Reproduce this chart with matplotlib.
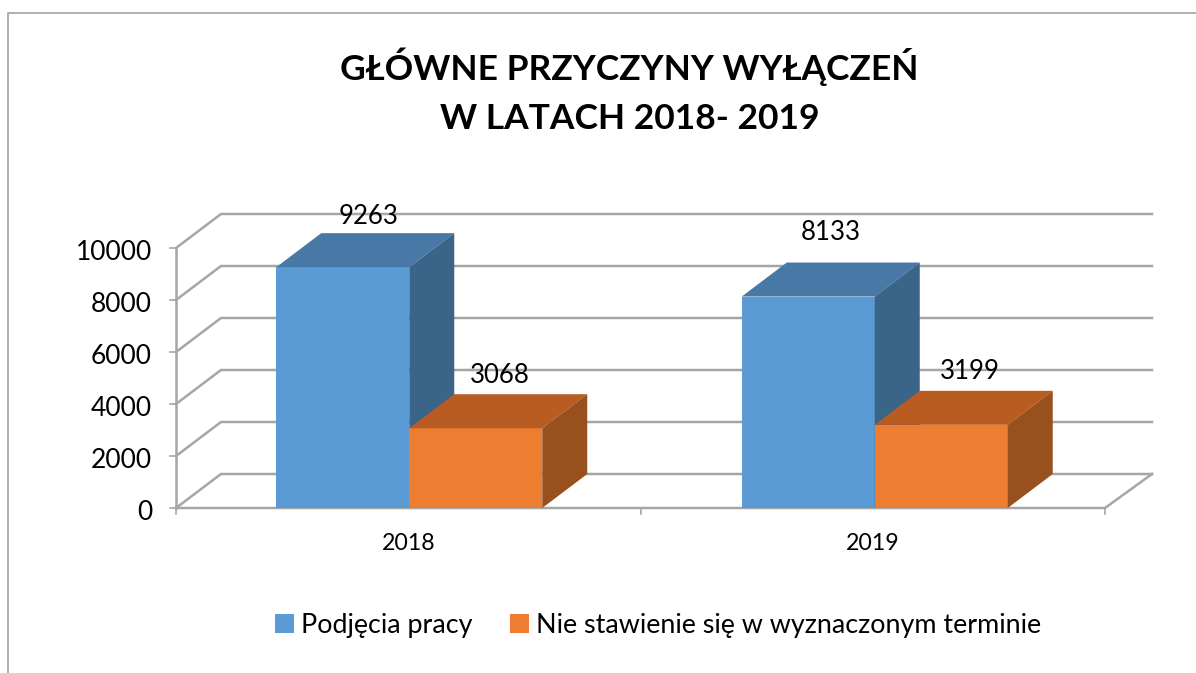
import matplotlib
matplotlib.use("Agg")
import matplotlib.pyplot as plt
from matplotlib.patches import Polygon, Rectangle
from matplotlib.lines import Line2D

plt.rcParams['font.family'] = ['Lato', 'DejaVu Sans']

title = "GŁÓWNE PRZYCZYNY WYŁĄCZEŃ\nW LATACH 2018- 2019"
categories = ["2018", "2019"]
series_names = ["Podjęcia pracy", "Nie stawienie się w wyznaczonym terminie"]
work_values = [9263, 8133]
absence_values = [3068, 3199]
y_ticks = [0, 2000, 4000, 6000, 8000, 10000]
# label offsets from the centre of each bar top's back edge, in pixels
work_label_lift = [17, 30]
absence_label_lift = [19, 19]
work_label_shift = [3, 0]
absence_label_shift = [2, 6]

W, H = 1196, 673
fig = plt.figure(figsize=(W / 100, H / 100), dpi=100, facecolor="white")
L, R, B, T = 176, 1105, 508, 248
ax = fig.add_axes([L / W, 1 - B / H, (R - L) / W, (B - T) / H])
ax.set_xlim(-0.5, 1.5)
ax.set_ylim(0, 10000)
ax.axis("off")

px_x = 2 / (R - L)
px_y = 10000 / (B - T)
dx = 45 * px_x
dy = 34 * px_y
bw = 133 * px_x
grid = "#a6a6a6"

# chart frame
fig.add_artist(Line2D([8 / W, 8 / W, 1], [0, 1 - 13 / H, 1 - 13 / H], color="#a9a9a9", lw=1.3))

# walls / grid
gx = dx + 2 * px_x
for v in y_ticks:
    ax.plot([-0.5, -0.5 + dx, 1.5 + gx], [v, v + dy, v + dy], color=grid, lw=1.8, clip_on=False, zorder=1)
    ax.plot([-0.5 - 6 * px_x, -0.5], [v, v], color=grid, lw=1.2, clip_on=False, zorder=1)
    ax.text(-0.5 - 24 * px_x, v - 4 * px_y, str(v), ha="right", va="center", fontsize=19, color="black", clip_on=False)
ax.plot([-0.5, 1.5, 1.5 + gx], [0, 0, dy], color=grid, lw=1.8, clip_on=False, zorder=1)
ax.plot([-0.5, -0.5], [0, 10000], color=grid, lw=1.8, clip_on=False, zorder=1)
for xt in [-0.5, 0.5, 1.5]:
    ax.plot([xt, xt], [0, -6 * px_y], color=grid, lw=1.2, clip_on=False, zorder=1)


def bar3d(x0, v, front, top, side, z):
    x1 = x0 + bw
    ax.add_patch(Rectangle((x0, 0), bw, v, facecolor=front, edgecolor="none", zorder=z, clip_on=False))
    ax.add_patch(Polygon([(x0, v), (x1, v), (x1 + dx, v + dy), (x0 + dx, v + dy)],
                         facecolor=top, edgecolor="none", zorder=z, clip_on=False))
    ax.add_patch(Polygon([(x1, 0), (x1, v), (x1 + dx, v + dy), (x1 + dx, dy)],
                         facecolor=side, edgecolor="none", zorder=z, clip_on=False))


for i in range(len(categories)):
    c = i + (1 + i) * px_x
    bar3d(c - bw, work_values[i], "#5b9bd5", "#4878a6", "#3b6489", 2)
    bar3d(c, absence_values[i], "#ed7d31", "#b85c22", "#98501c", 3)
    ax.text(c - 0.5 * bw + 0.5 * dx + work_label_shift[i] * px_x, work_values[i] + dy + work_label_lift[i] * px_y,
            f"{work_values[i]}", ha="center", va="center", fontsize=18.5, color="black", zorder=5, clip_on=False)
    ax.text(c + 0.5 * bw + 0.5 * dx + absence_label_shift[i] * px_x, absence_values[i] + dy + absence_label_lift[i] * px_y,
            f"{absence_values[i]}", ha="center", va="center", fontsize=18.5, color="black", zorder=5, clip_on=False)
    ax.text(i, -35 * px_y, categories[i], ha="center", va="center", fontsize=16.7, color="black", clip_on=False)

fig.text(629.5 / W, 1 - 91 / H, title, ha="center", va="center", fontsize=25.5, fontweight="bold",
         linespacing=1.66, color="black")

# legend
handles = [Rectangle((0, 0), 1, 1, facecolor="#5b9bd5"), Rectangle((0, 0), 1, 1, facecolor="#ed7d31")]
fig.legend(handles, series_names, loc="center", bbox_to_anchor=(658 / W, 1 - 625 / H), ncol=2, frameon=False,
           fontsize=19.4, handlelength=0.7, handleheight=0.7, handletextpad=0.27, columnspacing=1.4)

fig.savefig("out.png", dpi=100)
